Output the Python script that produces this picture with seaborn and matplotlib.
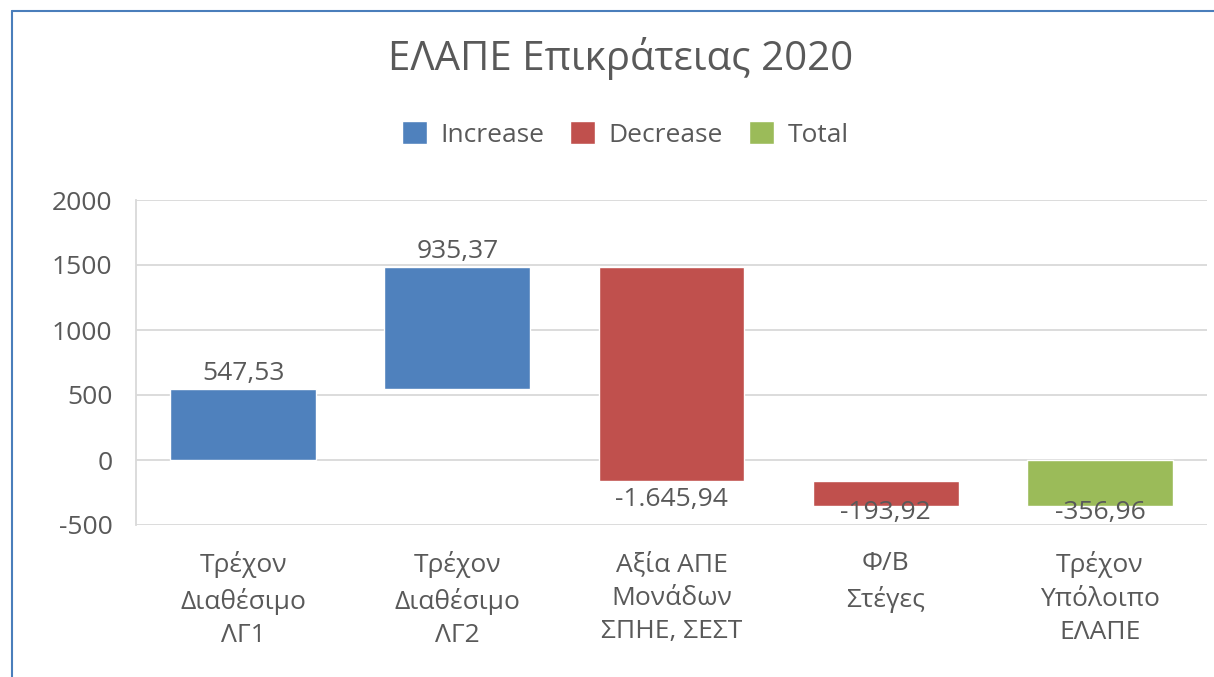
import matplotlib.pyplot as plt
import seaborn as sns
import pandas as pd
import numpy as np
from matplotlib.patches import Patch
from matplotlib.lines import Line2D

categories = ["Τρέχον\nΔιαθέσιμο\nΛΓ1", "Τρέχον\nΔιαθέσιμο\nΛΓ2", "Αξία ΑΠΕ\nΜονάδων\nΣΠΗΕ, ΣΕΣΤ",
              "Φ/Β\nΣτέγες", "Τρέχον\nΥπόλοιπο\nΕΛΑΠΕ"]
values = [547.53, 935.37, -1645.94, -193.92, -356.96]
is_total = [False, False, False, False, True]
labels = ["547,53", "935,37", "-1.645,94", "-193,92", "-356,96"]
yticks = [-500, 0, 500, 1000, 1500, 2000]

COLORS = {"Increase": "#4F81BD", "Decrease": "#C0504D", "Total": "#9BBB59"}
TXT = "#595959"
GRID = "#D9D9D9"

# waterfall bases from running total
df = pd.DataFrame({"cat": categories, "val": values, "total": is_total})
running = df["val"].where(~df["total"], 0).cumsum()
df["start"] = np.where(df["total"], 0, running - df["val"])
df["end"] = np.where(df["total"], df["val"], running)
df["kind"] = np.where(df["total"], "Total", np.where(df["val"] >= 0, "Increase", "Decrease"))

sns.set_theme(style="white")
plt.rcParams["font.family"] = ["Open Sans", "DejaVu Sans"]

fig = plt.figure(figsize=(12.14, 6.77), dpi=100)
ax = fig.add_axes([136 / 1214, 1 - 525 / 677, (1207 - 136) / 1214, 325 / 677])

x = np.arange(len(df))
ax.bar(x, df["end"] - df["start"], bottom=df["start"], width=0.68,
       color=[COLORS[k] for k in df["kind"]], zorder=3)

ax.set_xlim(-0.5, len(df) - 0.5)
ax.set_ylim(-500, 2000)
ax.set_yticks(yticks)
ax.set_yticklabels([str(t) for t in yticks], fontsize=19, color=TXT)
ax.set_xticks(x)
ax.set_xticklabels(df["cat"], fontsize=19, color=TXT, linespacing=1.45)
ax.tick_params(axis="y", length=0, pad=17)
ax.tick_params(axis="x", length=0, pad=19)
ax.yaxis.grid(True, color=GRID, lw=1.3, zorder=0)
for s in ["top", "right", "bottom"]:
    ax.spines[s].set_visible(False)
ax.spines["left"].set_color(GRID)
ax.spines["left"].set_linewidth(1.3)

# value labels
for i, row in df.iterrows():
    top = max(row["start"], row["end"])
    low = min(row["start"], row["end"])
    if row["val"] >= 0:
        ax.annotate(labels[i], (i, top), xytext=(0, 2), textcoords="offset points",
                    ha="center", va="bottom", fontsize=19, color=TXT, zorder=4)
    elif low - 230 > -500:
        ax.annotate(labels[i], (i, low), xytext=(0, -4), textcoords="offset points",
                    ha="center", va="top", fontsize=19, color=TXT, zorder=4)
    else:
        ax.annotate(labels[i], (i, -500), xytext=(0, 0), textcoords="offset points",
                    ha="center", va="bottom", fontsize=19, color=TXT, zorder=4)

fig.text(0.511, 0.914, "ΕΛΑΠΕ Επικράτειας 2020", ha="center", va="center",
         fontsize=29, color=TXT)

handles = [Patch(facecolor=COLORS[k], label=k) for k in ["Increase", "Decrease", "Total"]]
fig.legend(handles=handles, loc="center", bbox_to_anchor=(0.515, 0.801), ncol=3,
           frameon=False, fontsize=19, labelcolor=TXT, handlelength=0.95,
           handleheight=0.95, handletextpad=0.5, columnspacing=1.0)

# chart frame edges (top / left)
fig.add_artist(Line2D([12 / 1214, 1], [1 - 11 / 677, 1 - 11 / 677], color="#4A7EBB", lw=1.5))
fig.add_artist(Line2D([12 / 1214, 12 / 1214], [0, 1 - 11 / 677], color="#4A7EBB", lw=1.5))

fig.savefig("out.png", dpi=100, facecolor="white")
